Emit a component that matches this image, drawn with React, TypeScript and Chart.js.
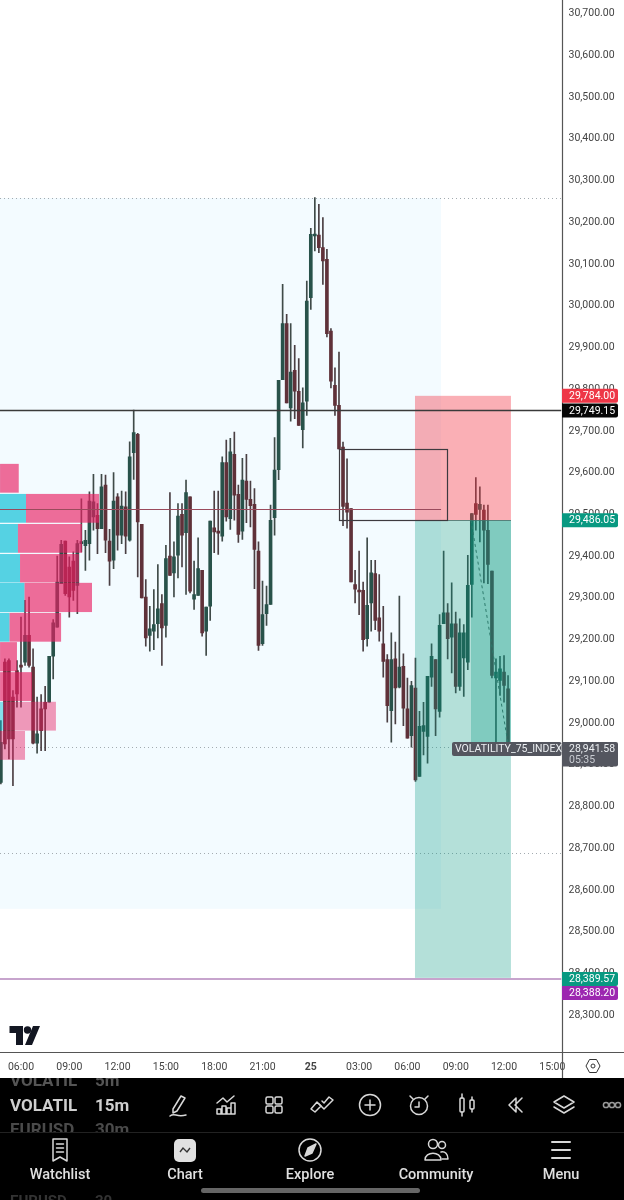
import React, { useEffect, useRef } from "react";
import { Chart, registerables } from "chart.js";
Chart.register(...registerables);

const firstCandleHour = 4.75;
const candleStepHours = 0.25;
const opens = [
  28858, 29146, 29150, 29062, 29126, 29138, 29146, 29210, 29134, 28952,
  29034, 29050, 29050, 29160, 29230, 29334, 29436, 29374, 29388, 29330,
  29430, 29425, 29430, 29494, 29498, 29466, 29570, 29436, 29390, 29542,
  29450, 29518, 29438, 29648, 29692, 29476, 29302, 29210, 29220, 29238,
  29286, 29234, 29400, 29360, 29402, 29500, 29456, 29542, 29297, 29306,
  29366, 29220, 29280, 29468, 29458, 29448, 29624, 29490, 29644, 29548,
  29460, 29580, 29536, 29524, 29412, 29190, 29262, 29284, 29492, 29607,
  29823, 29957, 29755, 29845, 29795, 29703, 29771, 30019, 30167, 30169,
  30139, 30111, 29939, 29809, 29761, 29661, 29527, 29514, 29332, 29318,
  29318, 29202, 29288, 29358, 29252, 29190, 29152, 29030, 29154, 29086,
  29136, 29034, 28970, 29084, 28872, 28980, 28968, 29110, 29152, 29028,
  29238, 29264, 29206, 29238, 29088, 29156, 29146, 29332, 29526, 29512,
  29510, 29462, 29364, 29108, 29102, 29122, 29082,
];
const highs = [
  29006, 29154, 29154, 29078, 29150, 29254, 29294, 29302, 29178, 29062,
  29068, 29088, 29160, 29248, 29400, 29438, 29436, 29398, 29410, 29438,
  29537, 29462, 29554, 29596, 29526, 29596, 29594, 29464, 29600, 29550,
  29556, 29554, 29674, 29750, 29694, 29476, 29344, 29280, 29320, 29380,
  29308, 29426, 29552, 29434, 29526, 29526, 29582, 29542, 29388, 29444,
  29366, 29278, 29484, 29556, 29556, 29638, 29678, 29682, 29697, 29570,
  29634, 29644, 29580, 29562, 29434, 29340, 29328, 29522, 29684, 29821,
  30051, 29979, 29957, 29905, 29873, 29803, 30059, 30185, 30259, 30243,
  30211, 30135, 29945, 29851, 29889, 29673, 29633, 29514, 29366, 29412,
  29338, 29444, 29390, 29390, 29356, 29280, 29164, 29216, 29194, 29304,
  29166, 29108, 29100, 29156, 29028, 29050, 29112, 29190, 29152, 29260,
  29412, 29286, 29336, 29266, 29250, 29236, 29402, 29502, 29588, 29566,
  29522, 29522, 29364, 29154, 29160, 29162, 29114,
];
const lows = [
  28854, 28938, 28914, 28850, 29038, 29038, 29138, 29134, 28950, 28928,
  28934, 28934, 29050, 29106, 29230, 29334, 29306, 29254, 29294, 29262,
  29410, 29366, 29390, 29462, 29406, 29466, 29408, 29330, 29370, 29414,
  29430, 29406, 29436, 29584, 29350, 29300, 29184, 29172, 29176, 29204,
  29138, 29206, 29354, 29302, 29348, 29374, 29308, 29312, 29272, 29306,
  29208, 29162, 29246, 29408, 29404, 29436, 29484, 29464, 29486, 29433,
  29440, 29480, 29470, 29322, 29174, 29186, 29234, 29284, 29450, 29583,
  29823, 29767, 29723, 29729, 29713, 29659, 29737, 29991, 30131, 30127,
  30051, 29925, 29803, 29737, 29657, 29473, 29467, 29338, 29288, 29260,
  29172, 29184, 29220, 29224, 29196, 29110, 29002, 28954, 28998, 29084,
  28994, 28964, 28942, 28860, 28872, 28924, 28904, 29088, 28970, 29014,
  29238, 29154, 29120, 29072, 29078, 29064, 29128, 29254, 29462, 29434,
  29336, 29334, 29108, 28954, 29066, 29050, 28942,
];
const closes = [
  28954, 28950, 28962, 28962, 29070, 29134, 29210, 29138, 28952, 28974,
  28982, 29034, 29160, 29240, 29338, 29428, 29310, 29302, 29318, 29430,
  29434, 29438, 29532, 29530, 29466, 29566, 29438, 29388, 29532, 29450,
  29520, 29448, 29638, 29696, 29482, 29300, 29204, 29226, 29236, 29274,
  29228, 29394, 29354, 29398, 29496, 29450, 29552, 29316, 29308, 29370,
  29216, 29278, 29484, 29458, 29455, 29624, 29494, 29650, 29546, 29452,
  29582, 29536, 29521, 29416, 29186, 29260, 29284, 29486, 29606, 29821,
  29957, 29767, 29841, 29795, 29713, 29767, 30011, 30171, 30171, 30139,
  30107, 29933, 29819, 29761, 29657, 29519, 29505, 29338, 29321, 29314,
  29200, 29282, 29360, 29246, 29220, 29148, 29042, 29152, 29084, 29134,
  29036, 28964, 29090, 28864, 28992, 28994, 29112, 29160, 29034, 29234,
  29264, 29202, 29238, 29088, 29216, 29216, 29330, 29502, 29500, 29524,
  29462, 29380, 29114, 29122, 29130, 29090, 28942,
];

// Session volume profile
const profileTop = [29621, 29549, 29477, 29405, 29336, 29264, 29194, 29122, 29051, 28981];
const profileBottom = [29552, 29480, 29408, 29337, 29266, 29195, 29124, 29053, 28982, 28912];
const profileUpEnd = [4.7, 6.31, 5.81, 5.94, 6.22, 5.29, 4.7, 4.7, 4.91, 4.7];
const profileDownEnd = [5.86, 10.85, 9.79, 9.6, 10.41, 8.49, 5.75, 6.68, 8.17, 6.25];
const profileLight = [false, false, false, false, false, false, false, false, true, true];

const sessionRange = [0, 32.09, 30258, 28555];
const positionRange = [30.47, 36.43];
const stopPrice = 29784;
const entryPrice = 29486.05;
const targetPrice = 28389.57;
const innerRange = [33.95, 36.43, 29486.05, 28952];
const boxRange = [25.75, 32.46, 29656, 29486];
const sessionLinePrice = 29514;
const sessionLineEnd = 32.09;
const dottedPrices = [30258, 28941.58, 28689];
const horizontalPrice = 29749.15;
const purplePrice = 28388.2;
const lastPrice = 28941.58;
const symbolName = "VOLATILITY_75_INDEX";
const countdown = "05:35";

const AXIS_FONT = "10.5px Roboto";
const fmt = (v: number) =>
  v.toLocaleString("en-US", { minimumFractionDigits: 2, maximumFractionDigits: 2 });
const hourLabel = (t: number) => {
  if (t === 24) return "25";
  const h = ((t % 24) + 24) % 24;
  return String(h).padStart(2, "0") + ":00";
};

const GREEN = "#28524a";
const RED = "#5f3139";

const overlay = {
  id: "overlay",
  beforeDatasetsDraw(c: any) {
    const { ctx, chartArea: a, scales } = c;
    const X = (t: number) => scales.x.getPixelForValue(t);
    const Y = (p: number) => scales.y.getPixelForValue(p);
    ctx.save();
    ctx.beginPath();
    ctx.rect(a.left, a.top, a.right - a.left, a.bottom - a.top);
    ctx.clip();
    ctx.fillStyle = "#f3fbff";
    ctx.fillRect(0, Y(sessionRange[2]), X(sessionRange[1]), Y(sessionRange[3]) - Y(sessionRange[2]));
    ctx.strokeStyle = "#a3abb0";
    ctx.lineWidth = 1;
    ctx.setLineDash([1, 3]);
    dottedPrices.forEach((p) => {
      const y = Math.round(Y(p)) + 0.5;
      ctx.beginPath();
      ctx.moveTo(a.left, y);
      ctx.lineTo(a.right, y);
      ctx.stroke();
    });
    ctx.restore();
  },
  afterDatasetsDraw(c: any) {
    const { ctx, chartArea: a, scales } = c;
    const X = (t: number) => scales.x.getPixelForValue(t);
    const Y = (p: number) => scales.y.getPixelForValue(p);
    ctx.save();
    ctx.beginPath();
    ctx.rect(a.left, a.top, a.right - a.left, a.bottom - a.top);
    ctx.clip();
    // volume profile
    profileTop.forEach((top, i) => {
      const y0 = Y(top);
      const h = Y(profileBottom[i]) - y0;
      const up = X(profileUpEnd[i]);
      const down = X(profileDownEnd[i]);
      if (up > 0) {
        ctx.fillStyle = profileLight[i] ? "rgba(0,188,212,0.45)" : "rgba(0,188,212,0.65)";
        ctx.fillRect(0, y0, up, h);
      }
      ctx.fillStyle = profileLight[i] ? "rgba(233,30,99,0.45)" : "rgba(233,30,99,0.65)";
      ctx.fillRect(Math.max(up, 0), y0, down - Math.max(up, 0), h);
    });
    // position tool
    const px0 = X(positionRange[0]);
    const px1 = X(positionRange[1]);
    ctx.fillStyle = "rgba(242,54,69,0.4)";
    ctx.fillRect(px0, Y(stopPrice), px1 - px0, Y(entryPrice) - Y(stopPrice));
    ctx.fillStyle = "rgba(8,153,129,0.3)";
    ctx.fillRect(px0, Y(entryPrice), px1 - px0, Y(targetPrice) - Y(entryPrice));
    ctx.fillStyle = "rgba(8,153,129,0.3)";
    ctx.fillRect(X(innerRange[0]), Y(innerRange[2]), X(innerRange[1]) - X(innerRange[0]), Y(innerRange[3]) - Y(innerRange[2]));
    ctx.strokeStyle = "rgba(70,110,105,0.8)";
    ctx.lineWidth = 1;
    ctx.beginPath();
    ctx.moveTo(px0, Math.round(Y(entryPrice)) + 0.5);
    ctx.lineTo(px1, Math.round(Y(entryPrice)) + 0.5);
    ctx.stroke();
    ctx.strokeStyle = "#2c7a6c";
    ctx.setLineDash([3, 3]);
    ctx.beginPath();
    ctx.moveTo(X(innerRange[0]), Y(innerRange[2]));
    ctx.lineTo(X(innerRange[1]) - 3, Y(innerRange[3]));
    ctx.stroke();
    ctx.setLineDash([]);
    // rectangle drawing
    ctx.strokeStyle = "#3d3a3f";
    ctx.lineWidth = 1.2;
    const bx = Math.round(X(boxRange[0])) + 0.5;
    const bx1 = Math.round(X(boxRange[1])) + 0.5;
    const by = Math.round(Y(boxRange[2])) + 0.5;
    const by1 = Math.round(Y(boxRange[3])) + 0.5;
    ctx.strokeRect(bx, by, bx1 - bx, by1 - by);
    // session line
    ctx.strokeStyle = "#9a4a5c";
    ctx.lineWidth = 1.2;
    ctx.beginPath();
    ctx.moveTo(0, Math.round(Y(sessionLinePrice)) + 0.5);
    ctx.lineTo(X(sessionLineEnd), Math.round(Y(sessionLinePrice)) + 0.5);
    ctx.stroke();
    // horizontal lines
    ctx.strokeStyle = "#3a3a3a";
    ctx.lineWidth = 1.5;
    ctx.beginPath();
    ctx.moveTo(0, Math.round(Y(horizontalPrice)) + 0.5);
    ctx.lineTo(a.right, Math.round(Y(horizontalPrice)) + 0.5);
    ctx.stroke();
    ctx.strokeStyle = "#8f4a9c";
    ctx.lineWidth = 1.2;
    ctx.beginPath();
    ctx.moveTo(0, Math.round(Y(purplePrice)) + 1);
    ctx.lineTo(a.right, Math.round(Y(purplePrice)) + 1);
    ctx.stroke();
    ctx.restore();
  },
  afterDraw(c: any) {
    const { ctx, chartArea: a, scales, width, height } = c;
    const Y = (p: number) => scales.y.getPixelForValue(p);
    ctx.save();
    ctx.strokeStyle = "#555";
    ctx.lineWidth = 1.2;
    ctx.beginPath();
    ctx.moveTo(0, Math.round(a.bottom) + 0.5);
    ctx.lineTo(width, Math.round(a.bottom) + 0.5);
    ctx.moveTo(Math.round(a.right) + 0.5, 0);
    ctx.lineTo(Math.round(a.right) + 0.5, height);
    ctx.stroke();
    const L = 562;
    const tag = (cy: number, bg: string, text: string) => {
      ctx.fillStyle = bg;
      ctx.beginPath();
      ctx.roundRect(L, cy - 7, 56, 14, [0, 2, 2, 0]);
      ctx.fill();
      ctx.fillStyle = "#fff";
      ctx.font = AXIS_FONT;
      ctx.textAlign = "left";
      ctx.textBaseline = "middle";
      ctx.fillText(text, L + 7, cy + 0.5);
    };
    tag(Y(stopPrice), "#ee3747", fmt(stopPrice));
    tag(Y(horizontalPrice), "#060606", fmt(horizontalPrice));
    tag(Y(entryPrice), "#089981", fmt(entryPrice));
    tag(Y(targetPrice) + 1, "#089981", fmt(targetPrice));
    tag(Y(targetPrice) + 15, "#9c27b0", fmt(purplePrice));
    // last price tag
    const ly = Y(lastPrice);
    ctx.fillStyle = "#54565f";
    ctx.beginPath();
    ctx.roundRect(452, ly - 5.5, 109.5, 14, 2);
    ctx.fill();
    ctx.beginPath();
    ctx.roundRect(L, ly - 5.5, 56, 24.5, [0, 2, 2, 0]);
    ctx.fill();
    ctx.fillStyle = "#eceff2";
    ctx.font = AXIS_FONT;
    ctx.textAlign = "left";
    ctx.textBaseline = "middle";
    ctx.fillText(symbolName, 455, ly + 1.5);
    ctx.fillText(fmt(lastPrice), L + 7, ly + 1.5);
    ctx.fillStyle = "#c9ccd2";
    ctx.fillText(countdown, L + 7, ly + 13);
    ctx.restore();
  },
};

const S = { fill: "none", stroke: "#d8d8d8", strokeWidth: 1.5, strokeLinecap: "round", strokeLinejoin: "round" } as any;
const toolIcons: [number, React.ReactNode][] = [
  [178, <g {...S}><path d="M-5 4 L3 -9 L7 -7 L-1 6 L-5 8 Z" /><path d="M-8 11 C-3 7 -2 13 8 10" /></g>],
  [226, <g {...S}><path d="M-9 -2 L-3 -7 L1 -3 L8 -9" /><path d="M-9 9 V4 H-5 V9 Z M-4 9 V1 H0 V9 Z M1 9 V3 H5 V9 Z M5 9 V-2 H9 V9 Z" /></g>],
  [274, <g {...S}><rect x="-8" y="-8" width="7" height="7" rx="1.5" /><rect x="1" y="-8" width="7" height="7" rx="1.5" /><rect x="-8" y="1" width="7" height="7" rx="1.5" /><rect x="1" y="1" width="7" height="7" rx="1.5" /></g>],
  [322, <g {...S}><path d="M-11 4 L-5 -3 L-1 1 L-7 7 Z" /><path d="M-3 -1 L2 4 L11 -5 L7 -8 L2 -2 L0 -4" /></g>],
  [370, <g {...S}><circle cx="0" cy="0" r="10.5" /><path d="M-5 0 H5 M0 -5 V5" /></g>],
  [419, <g {...S}><circle cx="0" cy="1" r="8.5" /><path d="M0 -3 V2 H-4 M-9 -9 L-6 -6 M9 -9 L6 -6" /></g>],
  [467, <g {...S}><rect x="-7" y="-7" width="4" height="14" rx="1" /><path d="M-5 -11 V-7 M-5 7 V11" /><rect x="3" y="-5" width="4" height="9" rx="1" /><path d="M5 -8 V-5 M5 4 V7" /></g>],
  [515, <g {...S}><path d="M1 -7 L-6 0 L1 7 Z M7 -7 L0 0 L7 7" /></g>],
  [564, <g {...S}><path d="M0 -9 L10 -3 L0 3 L-10 -3 Z" /><path d="M-10 2 L0 8 L10 2" /></g>],
  [612, <g {...S} stroke="#999"><circle cx="-6" cy="0" r="2.6" /><circle cx="0" cy="0" r="2.6" /><circle cx="6" cy="0" r="2.6" /></g>],
];
const navItems: [number, string, React.ReactNode][] = [
  [60, "Watchlist", <g {...S}><path d="M-7 -11 H7 V11 L0 7 L-7 11 Z" /><path d="M-3.5 -6 H3.5 M-3.5 -2 H3.5 M-3.5 2 H3.5" /></g>],
  [185, "Chart", <g><rect x="-11" y="-11" width="22" height="23" rx="5" fill="#e0e0e0" /><path d="M-5 2 L-2 -2 L2 2 L5 -2" fill="none" stroke="#333" strokeWidth="1.4" /></g>],
  [310, "Explore", <g {...S}><circle cx="0" cy="0" r="11" /><path d="M6 -6 L2 3 L-5 6 L-2 -2 Z" fill="#d8d8d8" /></g>],
  [436, "Community", <g {...S}><circle cx="-3" cy="-6" r="4.5" /><circle cx="6" cy="-5" r="3.5" /><path d="M-11 10 C-11 1 5 1 5 10 Z" /><path d="M5 2 C9 1 12 4 12 9 H6" /></g>],
  [561, "Menu", <g {...S} strokeWidth="2"><path d="M-9 -8 H9 M-9 0 H9 M-9 8 H9" /></g>],
];

export default function App() {
  const ref = useRef<HTMLCanvasElement>(null);
  useEffect(() => {
    document.body.style.margin = "0";
    const hours = opens.map((_, i) => firstCandleHour + i * candleStepHours);
    const up = (i: number) => closes[i] >= opens[i];
    const chart = new Chart(ref.current!, {
      type: "bar",
      data: {
        datasets: [
          {
            label: "wick",
            data: hours.map((x, i) => ({ x, y: [lows[i], highs[i]] })) as any,
            barThickness: 1,
            backgroundColor: hours.map((_, i) => (up(i) ? "#3f4a48" : "#4a3f43")),
            order: 2,
          },
          {
            label: "body",
            data: hours.map((x, i) => ({ x, y: [opens[i], closes[i]] })) as any,
            barThickness: 3,
            minBarLength: 2,
            backgroundColor: hours.map((_, i) => (up(i) ? GREEN : RED)),
            borderWidth: 0,
            order: 1,
          },
        ],
      },
      options: {
        responsive: false,
        animation: false,
        events: [],
        layout: { padding: 0, autoPadding: false },
        datasets: { bar: { grouped: false } } as any,
        plugins: { legend: { display: false }, tooltip: { enabled: false } },
        scales: {
          x: {
            type: "linear",
            position: "bottom",
            offset: false,
            min: 4.696,
            max: 39.57,
            grid: { display: false, drawTicks: false, offset: false },
            border: { display: false },
            afterFit: (s: any) => { s.height = 26; s.paddingLeft = 0; s.paddingRight = 0; },
            ticks: {
              stepSize: 3,
              includeBounds: false,
              maxRotation: 0,
              autoSkip: false,
              padding: 9,
              color: "#444",
              font: (ctx: any) =>
                ctx.tick && ctx.tick.value === 24
                  ? { family: "Roboto", size: 10.5, weight: "bold" }
                  : { family: "Roboto", size: 10.5 },
              callback: (v: any) => hourLabel(Number(v)),
            },
          },
          y: {
            type: "linear",
            position: "right",
            min: 28212,
            max: 30732.3,
            grid: { display: false, drawTicks: false },
            border: { display: false },
            afterFit: (s: any) => { s.width = 62.5; s.paddingTop = 0; s.paddingBottom = 0; },
            ticks: {
              stepSize: 100,
              includeBounds: false,
              padding: 7,
              color: "#444",
              font: { family: "Roboto", size: 10.5 },
              callback: (v: any) => fmt(Number(v)),
            },
          },
        },
      },
      plugins: [overlay],
    } as any);
    return () => chart.destroy();
  }, []);

  const rowFont: React.CSSProperties = { position: "absolute", fontFamily: "Roboto", fontWeight: 700, whiteSpace: "nowrap", lineHeight: 1 };
  return (
    <div style={{ position: "absolute", left: 0, top: 0, width: 624, height: 1200, background: "#fff", overflow: "hidden" }}>
      <canvas ref={ref} width={624} height={1078} style={{ position: "absolute", left: 0, top: 0, width: 624, height: 1078 }} />
      <svg width="40" height="24" style={{ position: "absolute", left: 6, top: 1024 }} viewBox="0 0 40 24">
        <path d="M3.5 2 H17 V21 H10 V9 H3.5 Z M27 2 H34 L26 21 H19 Z" fill="#131722" />
        <circle cx="21.5" cy="6" r="3.7" fill="#131722" />
      </svg>
      <svg width="20" height="20" style={{ position: "absolute", left: 583, top: 1056 }} viewBox="-10 -10 20 20">
        <path d="M-3.5 -6.5 H3.5 L7 0 L3.5 6.5 H-3.5 L-7 0 Z" fill="none" stroke="#333" strokeWidth="1" />
        <circle r="2" fill="none" stroke="#333" strokeWidth="1" />
      </svg>
      <div style={{ position: "absolute", left: 0, top: 1078, width: 624, height: 122, background: "#000", overflow: "hidden" }}>
        <div style={{ position: "absolute", left: 0, top: 0, width: 150, height: 54, overflow: "hidden" }}>
          <span style={{ ...rowFont, left: 10, top: -6, fontSize: 17, color: "#555" }}>VOLATIL</span>
          <span style={{ ...rowFont, left: 95, top: -6, fontSize: 17, color: "#555" }}>5m</span>
          <span style={{ ...rowFont, left: 10, top: 19, fontSize: 17, color: "#cfcfcf" }}>VOLATIL</span>
          <span style={{ ...rowFont, left: 95, top: 19, fontSize: 17, color: "#cfcfcf" }}>15m</span>
          <span style={{ ...rowFont, left: 10, top: 43, fontSize: 17, color: "#4a4a4a" }}>EURUSD</span>
          <span style={{ ...rowFont, left: 95, top: 43, fontSize: 17, color: "#4a4a4a" }}>30m</span>
        </div>
        <span style={{ ...rowFont, left: 10, top: 116, fontSize: 15, color: "#333" }}>EURUSD</span>
        <span style={{ ...rowFont, left: 95, top: 116, fontSize: 15, color: "#333" }}>30</span>
        <div style={{ position: "absolute", left: 0, top: 54, width: 624, height: 1, background: "#222" }} />
        <svg width="624" height="122" style={{ position: "absolute", left: 0, top: 0 }}>
          {toolIcons.map(([x, g], i) => (
            <g key={i} transform={`translate(${x} 27)`}>{g}</g>
          ))}
          {navItems.map(([x, , g], i) => (
            <g key={i} transform={`translate(${x} 72)`}>{g}</g>
          ))}
        </svg>
        {navItems.map(([x, label]) => (
          <span key={label} style={{ ...rowFont, left: x - 60, width: 120, textAlign: "center", top: 90, fontSize: 14.5, fontWeight: 500, color: "#e0e0e0" }}>
            {label}
          </span>
        ))}
        <div style={{ position: "absolute", left: 201, top: 110, width: 219, height: 5, borderRadius: 3, background: "#666" }} />
      </div>
    </div>
  );
}
